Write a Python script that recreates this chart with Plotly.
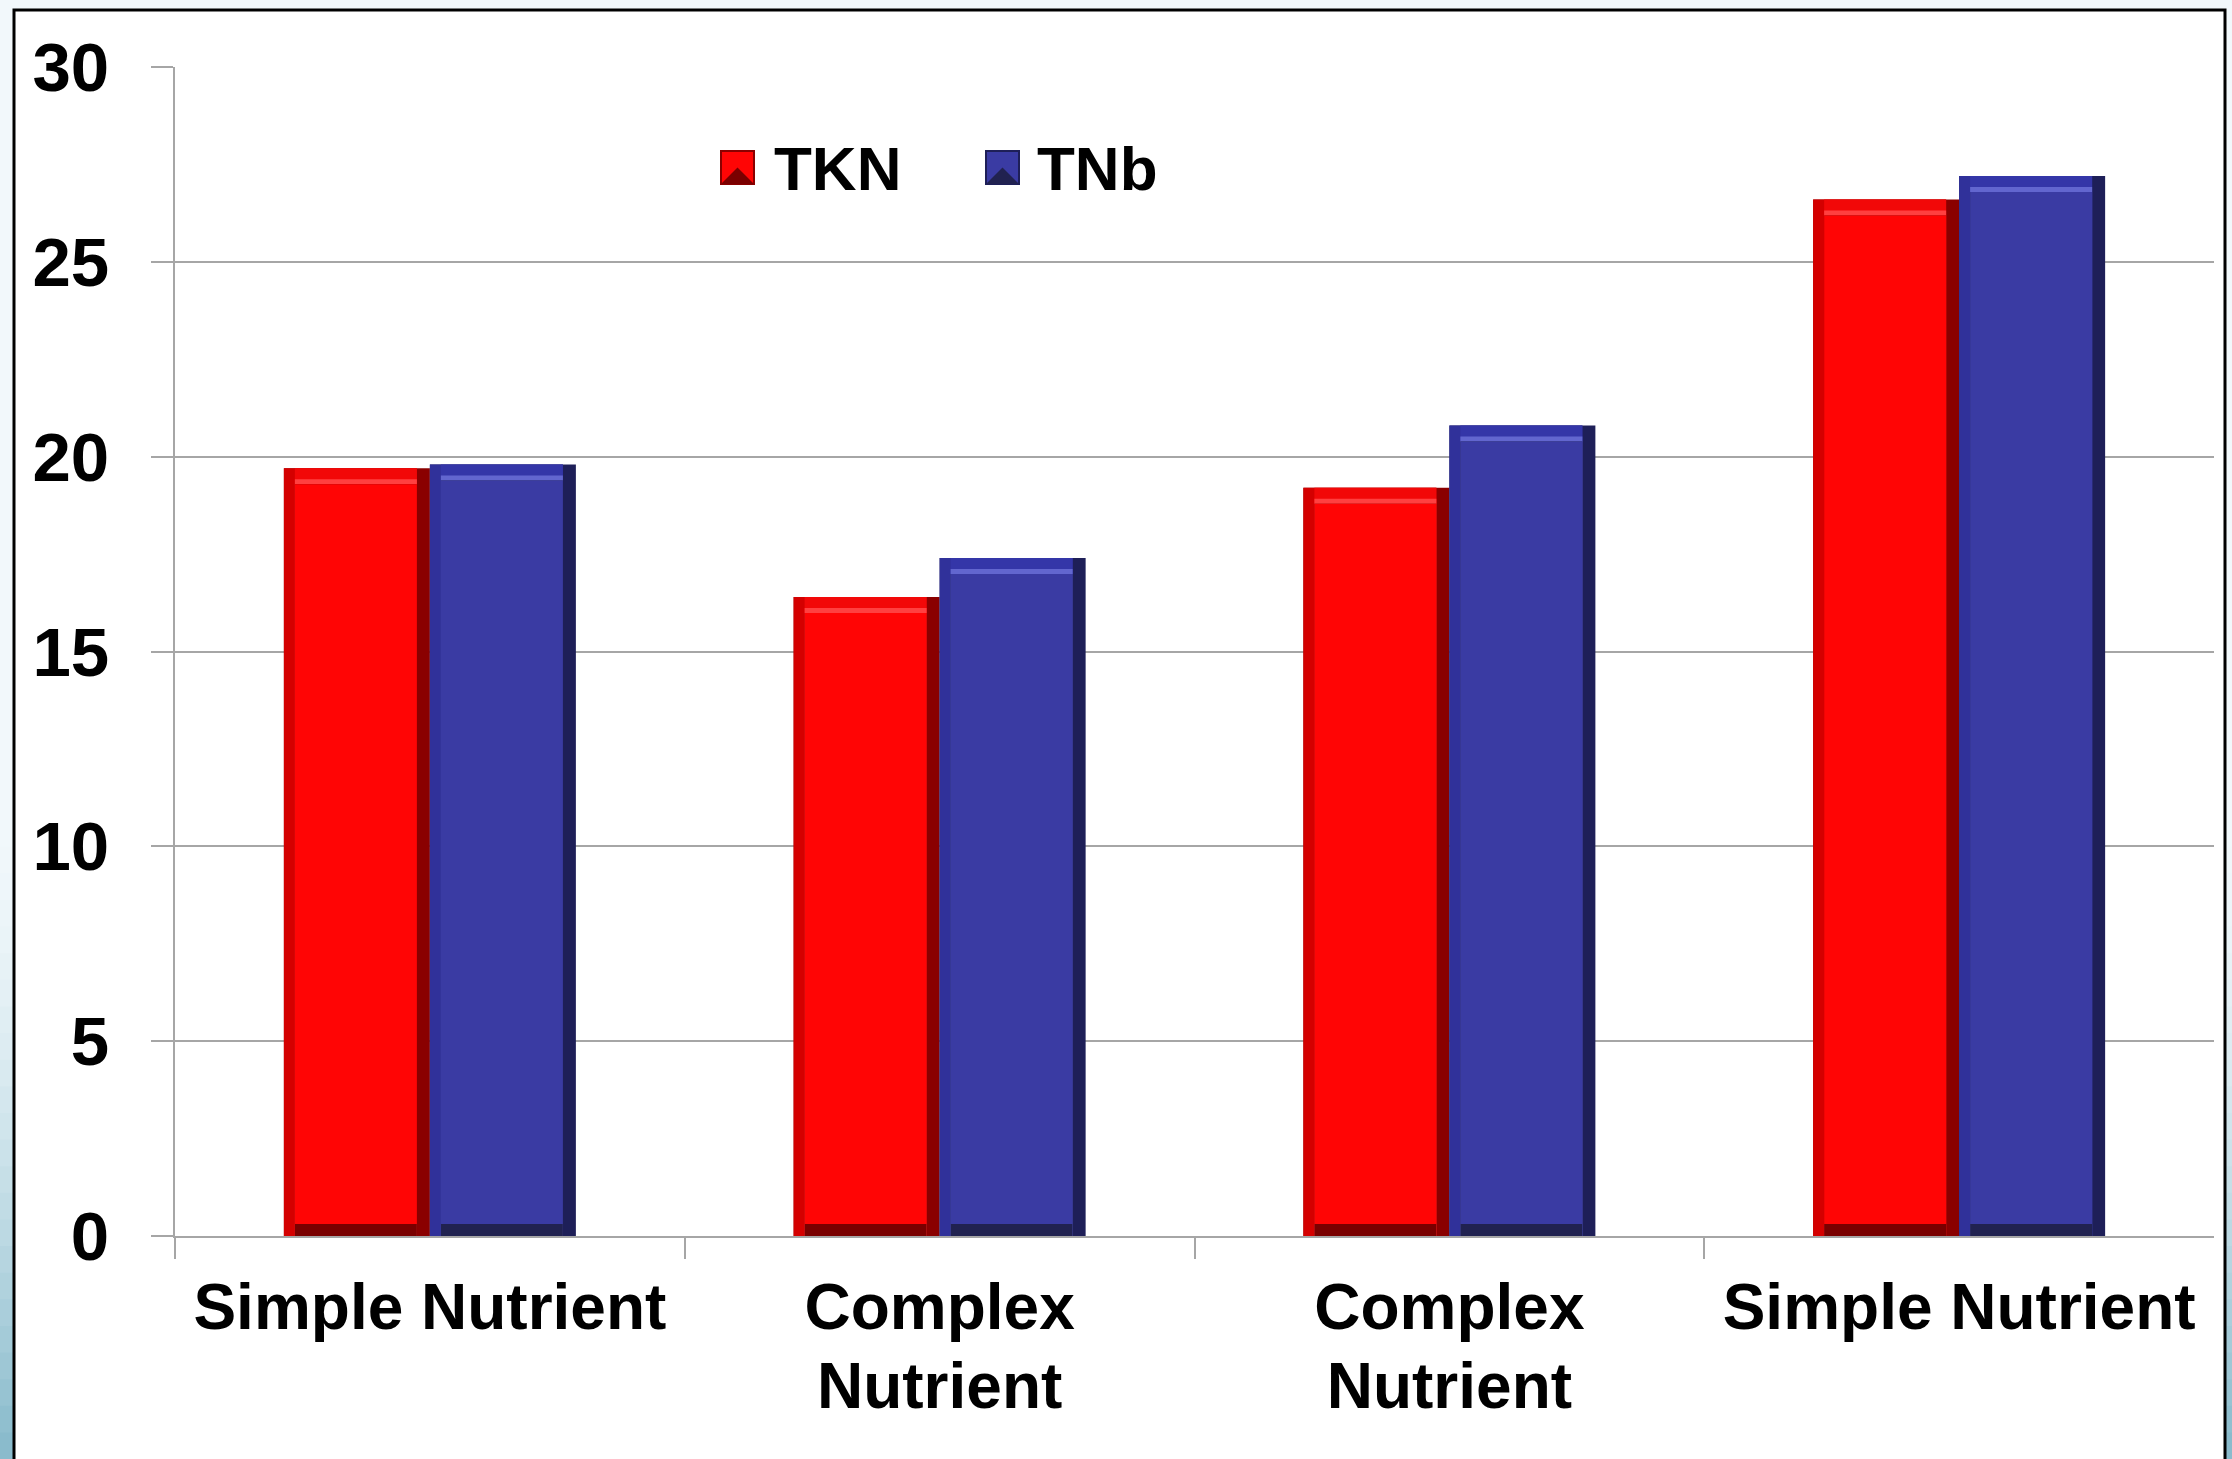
import plotly.graph_objects as go

# ---------------- data ----------------
categories = ["Simple Nutrient", "Complex Nutrient", "Complex Nutrient", "Simple Nutrient"]
label_line1 = ["Simple Nutrient", "Complex", "Complex", "Simple Nutrient"]
label_line2 = ["", "Nutrient", "Nutrient", ""]
series_names = ["TKN", "TNb"]
tkn = [19.7, 16.4, 19.2, 26.6]
tnb = [19.8, 17.4, 20.8, 27.2]
y_ticks = [0, 5, 10, 15, 20, 25, 30]

# ---------------- layout geometry ----------------
W, H = 2232, 1459
L, R, T, B = 175, 18, 67, 223
plot_w = W - L - R
plot_h = H - T - B
y_max = 30
n_cat = len(categories)

px_x = plot_w / n_cat          # px per x unit
px_y = plot_h / y_max          # px per y unit

BW = 146 / px_x                # bar width (x units)
lb, rb = 11 / px_x, 13 / px_x  # left / right bevel
tb, bb, hl = 16 / px_y, 12 / px_y, 5 / px_y  # top / bottom bevel, highlight

FONT = "Liberation Sans, Arial, sans-serif"
GRID = "#a6a6a6"

styles = {
    "TKN": dict(face="#ff0505", left="#d40000", right="#8a0000", top="#f20808",
                hi="#ff4040", bottom="#7a0000"),
    "TNb": dict(face="#3a3ba3", left="#30319a", right="#1e1f58", top="#3436a8",
                hi="#6266cf", bottom="#212250"),
}

x = list(range(n_cat))
fig = go.Figure()


def add_bevel_bar(values, offset, st):
    inner_w = BW - lb - rb
    common = dict(x=x, hoverinfo="skip", showlegend=False,
                  marker_line_width=0)
    # right dark side (full)
    fig.add_trace(go.Bar(y=values, offset=offset, width=BW,
                         marker_color=st["right"], **common))
    # left side
    fig.add_trace(go.Bar(y=values, offset=offset, width=BW - rb,
                         marker_color=st["left"], **common))
    # top bevel
    fig.add_trace(go.Bar(y=values, offset=offset + lb, width=inner_w,
                         marker_color=st["top"], **common))
    # highlight band
    fig.add_trace(go.Bar(y=[v - tb + hl for v in values], offset=offset + lb,
                         width=inner_w, marker_color=st["hi"], **common))
    # bottom bevel
    fig.add_trace(go.Bar(y=[v - tb for v in values], offset=offset + lb,
                         width=inner_w, marker_color=st["bottom"], **common))
    # face
    fig.add_trace(go.Bar(y=[v - tb - bb for v in values], base=bb,
                         offset=offset + lb, width=inner_w,
                         marker_color=st["face"], **common))


add_bevel_bar(tkn, -BW, styles["TKN"])
add_bevel_bar(tnb, 0, styles["TNb"])

# dummy trace to activate the second (label) x axis
fig.add_trace(go.Scatter(x=[None], y=[None], xaxis="x2", showlegend=False,
                         hoverinfo="skip"))


def pxp(px):
    return (px - L) / plot_w


def pyp(py):
    return (H - B - py) / plot_h


shapes = []
# background gradient (slide background)
c0 = (0xf1, 0xf8, 0xfb)
c1 = (0x86, 0xb9, 0xca)
n_bands = 24
y_start, y_end = 820, H
for i in range(n_bands):
    t = (i + 0.5) / n_bands
    t = t ** 1.6
    col = tuple(int(round(c0[k] + (c1[k] - c0[k]) * t)) for k in range(3))
    ya = y_start + (y_end - y_start) * i / n_bands
    yb = y_start + (y_end - y_start) * (i + 1) / n_bands + 1
    shapes.append(dict(type="rect", xref="paper", yref="paper", layer="below",
                       x0=pxp(0), x1=pxp(W), y0=pyp(ya), y1=pyp(yb),
                       fillcolor="rgb(%d,%d,%d)" % col, line_width=0))
# white chart frame
shapes.append(dict(type="rect", xref="paper", yref="paper", layer="below",
                   x0=pxp(14), x1=pxp(2225), y0=pyp(10), y1=pyp(H + 20),
                   fillcolor="white", line=dict(color="black", width=3)))

# legend (manual, large bevelled squares)
legend_items = [("TKN", 721, 772), ("TNb", 986, 1035)]
annotations = []
for name, sx, tx in legend_items:
    st = styles[name]
    sy0, sy1 = 151, 184
    shapes.append(dict(type="rect", xref="paper", yref="paper",
                       x0=pxp(sx), x1=pxp(sx + 33), y0=pyp(sy1), y1=pyp(sy0),
                       fillcolor=st["face"], line=dict(color=st["right"], width=2)))
    shapes.append(dict(type="path", xref="paper", yref="paper",
                       path="M %f %f L %f %f L %f %f Z" % (
                           pxp(sx), pyp(sy1), pxp(sx + 33), pyp(sy1),
                           pxp(sx + 16.5), pyp(sy0 + 16.5)),
                       fillcolor=st["bottom"], line_width=0))
    annotations.append(dict(xref="paper", yref="paper", x=pxp(tx), y=pyp(168),
                            xanchor="left", yanchor="middle", showarrow=False,
                            text=name,
                            font=dict(family=FONT, size=62, color="black",
                                      weight="bold")))

fig.update_layout(
    width=W, height=H,
    margin=dict(l=L, r=R, t=T, b=B, autoexpand=False),
    paper_bgcolor="#f2f8fb",
    plot_bgcolor="rgba(0,0,0,0)",
    barmode="overlay",
    showlegend=False,
    shapes=shapes,
    annotations=annotations,
    xaxis=dict(
        range=[-0.5, n_cat - 0.5], tickmode="array", tickvals=x,
        ticktext=label_line1, ticks="", showgrid=False, zeroline=False,
        showline=True, linecolor=GRID, linewidth=2,
        tickfont=dict(family=FONT, size=64, color="black", weight="bold"),
        ticklabelstandoff=14,
        minor=dict(tickmode="array", tickvals=[i - 0.5 for i in range(n_cat)],
                   ticks="outside", ticklen=21, tickwidth=2, tickcolor=GRID,
                   showgrid=False),
    ),
    xaxis2=dict(
        range=[-0.5, n_cat - 0.5], overlaying="x", anchor="y", side="bottom",
        tickmode="array", tickvals=x, ticktext=label_line2, ticks="",
        showgrid=False, zeroline=False, showline=False,
        tickfont=dict(family=FONT, size=64, color="black", weight="bold"),
        ticklabelstandoff=107,
    ),
    yaxis=dict(
        range=[0, y_max], tickmode="array", tickvals=y_ticks,
        showgrid=True, gridcolor=GRID, gridwidth=2, zeroline=False,
        showline=True, linecolor=GRID, linewidth=2,
        ticks="outside", ticklen=22, tickwidth=2, tickcolor=GRID,
        tickfont=dict(family=FONT, size=69, color="black", weight="bold"),
        ticklabelstandoff=28,
    ),
)

fig.write_html("out.html")
